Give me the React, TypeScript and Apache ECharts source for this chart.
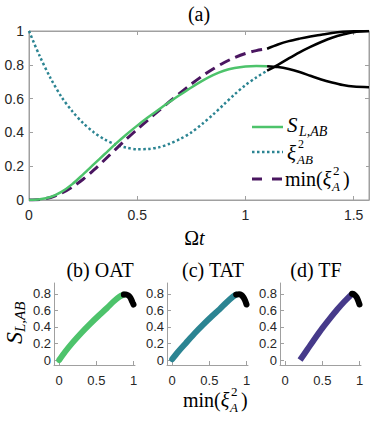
import React, { useEffect, useRef } from "react";
import * as echarts from "echarts";

// ---- panel (a) data ----
const tMain = [0, 0.05, 0.1, 0.15, 0.2, 0.25, 0.3, 0.35, 0.4, 0.45, 0.5, 0.55, 0.6, 0.65, 0.7, 0.75, 0.8, 0.85, 0.9, 0.95, 1.0, 1.05, 1.1];
const sLAB = [0, 0.004, 0.018, 0.048, 0.094, 0.152, 0.212, 0.272, 0.332, 0.388, 0.44, 0.489, 0.536, 0.581, 0.624, 0.666, 0.705, 0.739, 0.765, 0.781, 0.79, 0.793, 0.792];
const xiAB = [1.0, 0.85, 0.72, 0.61, 0.525, 0.455, 0.4, 0.358, 0.328, 0.31, 0.3, 0.302, 0.312, 0.333, 0.362, 0.4, 0.45, 0.505, 0.565, 0.625, 0.68, 0.725, 0.765];
const minXiA = [0, 0.003, 0.015, 0.04, 0.077, 0.123, 0.178, 0.238, 0.3, 0.36, 0.418, 0.474, 0.529, 0.583, 0.635, 0.686, 0.733, 0.775, 0.812, 0.843, 0.867, 0.884, 0.895];
const tTail = [1.1, 1.15, 1.2, 1.25, 1.3, 1.35, 1.4, 1.45, 1.5, Math.PI / 2];
const tailMin = [0.895, 0.92, 0.94, 0.955, 0.968, 0.978, 0.988, 0.995, 0.999, 1.0];
const tailXiAB = [0.765, 0.8, 0.838, 0.874, 0.906, 0.935, 0.96, 0.979, 0.993, 1.0];
const tailS = [0.792, 0.787, 0.775, 0.757, 0.735, 0.713, 0.695, 0.68, 0.671, 0.667];
const xTicksMain = [0, 0.5, 1, 1.5];
const yTicksMain = [0, 0.2, 0.4, 0.6, 0.8, 1];

// ---- panels (b)-(d) data: x = min(xi_A^2), y = S_L,AB ----
const oatX = [0, 0.08, 0.18, 0.3, 0.42, 0.53, 0.64, 0.73, 0.81, 0.87];
const oatY = [0, 0.1, 0.21, 0.33, 0.44, 0.535, 0.625, 0.705, 0.765, 0.79];
const oatTailX = [0.87, 0.9, 0.93, 0.955, 0.975, 0.99, 1.0];
const oatTailY = [0.79, 0.792, 0.78, 0.757, 0.72, 0.69, 0.67];
const tatX = [0, 0.08, 0.18, 0.3, 0.42, 0.53, 0.64, 0.73, 0.81, 0.86];
const tatY = [0.01, 0.1, 0.2, 0.32, 0.43, 0.525, 0.615, 0.695, 0.76, 0.79];
const tatTailX = [0.86, 0.9, 0.93, 0.96, 0.98, 1.0];
const tatTailY = [0.79, 0.795, 0.785, 0.755, 0.72, 0.67];
const tfX = [0.2, 0.3, 0.4, 0.5, 0.6, 0.7, 0.8, 0.9];
const tfY = [0, 0.13, 0.26, 0.385, 0.5, 0.61, 0.71, 0.8];
const tfTailX = [0.9, 0.93, 0.96, 0.98, 1.0];
const tfTailY = [0.8, 0.79, 0.76, 0.72, 0.67];
const xTicksSmall = [0, 0.5, 1];
const yTicksSmall = [0, 0.2, 0.4, 0.6, 0.8];
const panelTitles = ["(b) OAT", "(c) TAT", "(d) TF"];

const GREEN = "#4dc36b";
const TEAL = "#2b8492";
const PURPLE = "#4a1660";
const INDIGO = "#463a8a";
const AXIS = "#a0a0a0";
const LABEL = "#262626";
const SERIF = '"Liberation Serif", serif';
const SANS = '"Liberation Sans", Arial, sans-serif';

const zip = (xs: number[], ys: number[]) => xs.map((x, i) => [x, ys[i]]);

function line(xi: number, yi: number, data: number[][], color: string, width: number, type: any = "solid", cap: any = "butt") {
  return {
    type: "line",
    xAxisIndex: xi,
    yAxisIndex: yi,
    data,
    symbol: "none",
    smooth: 0.3,
    silent: true,
    lineStyle: { color, width, type, cap },
    z: 3,
  };
}

function txt(x: number, y: number, text: string, size: number, italic = false, align = "left", va = "middle", family = SERIF) {
  return {
    type: "text",
    x,
    y,
    silent: true,
    style: {
      text,
      font: `${italic ? "italic " : ""}${size}px ${family}`,
      fill: "#000",
      align,
      verticalAlign: va,
    },
  };
}

function axisX(grid: number, min: number, max: number, ticks: number[], showLabel: boolean, pos = "bottom", size = 14, margin = 8) {
  return {
    type: "value",
    gridIndex: grid,
    min,
    max,
    position: pos,
    axisLine: { show: true, onZero: false, lineStyle: { color: AXIS, width: 1 } },
    axisTick: { show: true, inside: true, length: 4, customValues: ticks, lineStyle: { color: AXIS } },
    axisLabel: { show: showLabel, customValues: ticks, color: LABEL, fontSize: size, fontFamily: SANS, margin },
    splitLine: { show: false },
  };
}

function axisY(grid: number, min: number, max: number, ticks: number[], showLabel: boolean, pos = "left", size = 14, margin = 5) {
  return {
    type: "value",
    gridIndex: grid,
    min,
    max,
    position: pos,
    axisLine: { show: true, onZero: false, lineStyle: { color: AXIS, width: 1 } },
    axisTick: { show: true, inside: true, length: 4, customValues: ticks, lineStyle: { color: AXIS } },
    axisLabel: { show: showLabel, customValues: ticks, color: LABEL, fontSize: size, fontFamily: SANS, margin },
    splitLine: { show: false },
  };
}

// "min(ξ²_A)" built from a rich text "min(ξ" plus scripts and ")"
function minXiLabel(x: number, y: number, size: number, z = 11) {
  return [
    {
      type: "text",
      x,
      y,
      z,
      silent: true,
      style: {
        text: "{r|min(}{i|ξ}",
        verticalAlign: "middle",
        align: "left",
        rich: {
          r: { fontFamily: SERIF, fontSize: size, fill: "#000" },
          i: { fontFamily: SERIF, fontSize: size, fontStyle: "italic", fill: "#000" },
        },
      },
    },
    { ...txt(x + 48, y - 9, "2", 13), z },
    { ...txt(x + 47, y + 7, "A", 13, true), z },
    { ...txt(x + 58, y, ")", size), z },
  ];
}

export default function App() {
  const ref = useRef<HTMLDivElement>(null);
  useEffect(() => {
    if (!ref.current) return;
    const chart = echarts.init(ref.current, null, { renderer: "svg" });
    const smallLefts = [54, 167, 280];
    const titleX = [100, 213, 316];
    const option: any = {
      animation: false,
      backgroundColor: "#fff",
      grid: [
        { left: 29, top: 31, width: 340, height: 169, show: true, borderColor: AXIS, borderWidth: 1, backgroundColor: "transparent" },
        ...smallLefts.map((l) => ({ left: l, top: 283, width: 81, height: 82 })),
      ],
      xAxis: [
        axisX(0, 0, Math.PI / 2, xTicksMain, true, "bottom", 14, 8),
        axisX(0, 0, Math.PI / 2, xTicksMain, false, "top"),
        axisX(1, -0.07, 1.02, xTicksSmall, true, "bottom", 13, 9),
        axisX(2, -0.07, 1.02, xTicksSmall, true, "bottom", 13, 9),
        axisX(3, -0.07, 1.02, xTicksSmall, true, "bottom", 13, 9),
      ],
      yAxis: [
        axisY(0, 0, 1, yTicksMain, true, "left", 14, 5),
        axisY(0, 0, 1, yTicksMain, false, "right"),
        axisY(1, -0.06, 0.93, yTicksSmall, true, "left", 13, 3),
        axisY(2, -0.06, 0.93, yTicksSmall, true, "left", 13, 3),
        axisY(3, -0.06, 0.93, yTicksSmall, true, "left", 13, 3),
      ],
      series: [
        line(0, 0, zip(tMain, xiAB), TEAL, 2.5, [2.5, 2.5]),
        line(0, 0, zip(tMain, minXiA), PURPLE, 3, [11, 6]),
        line(0, 0, zip(tMain, sLAB), GREEN, 2.5),
        line(0, 0, zip(tTail, tailMin), "#000", 2.5),
        line(0, 0, zip(tTail, tailXiAB), "#000", 2.5),
        line(0, 0, zip(tTail, tailS), "#000", 2.5),
        line(2, 2, zip(oatX, oatY), GREEN, 6, "solid", "round"),
        line(2, 2, zip(oatTailX, oatTailY), "#000", 6, "solid", "round"),
        line(3, 3, zip(tatX, tatY), TEAL, 6, "solid", "round"),
        line(3, 3, zip(tatTailX, tatTailY), "#000", 6, "solid", "round"),
        line(4, 4, zip(tfX, tfY), INDIGO, 6, "solid", "butt"),
        line(4, 4, zip(tfTailX, tfTailY), "#000", 6, "solid", "round"),
      ],
      graphic: [
        txt(199, 14, "(a)", 20, false, "center"),
        txt(199, 238, "Ω", 20, false, "right"),
        txt(199, 238, "t", 20, true, "left"),
        // legend (inside panel a)
        { type: "rect", shape: { x: 248, y: 114, width: 118, height: 80 }, style: { fill: "#fff" }, z: 10, silent: true },
        { type: "line", shape: { x1: 252, y1: 127, x2: 283, y2: 127 }, style: { stroke: GREEN, lineWidth: 2.5 }, z: 11, silent: true },
        { type: "line", shape: { x1: 252, y1: 152, x2: 283, y2: 152 }, style: { stroke: TEAL, lineWidth: 2.5, lineDash: [2.5, 2.5] }, z: 11, silent: true },
        { type: "line", shape: { x1: 252, y1: 179, x2: 283, y2: 179 }, style: { stroke: PURPLE, lineWidth: 3, lineDash: [10, 10] }, z: 11, silent: true },
        { ...txt(287, 125, "S", 21, true), z: 11 },
        { ...txt(299, 131, "L,AB", 14, true), z: 11 },
        { ...txt(287, 153, "ξ", 21, true), z: 11 },
        { ...txt(298, 144, "2", 12), z: 11 },
        { ...txt(297, 159, "AB", 13, true), z: 11 },
        ...minXiLabel(285, 179, 20),
        // small panel titles
        ...panelTitles.map((t, i) => txt(titleX[i], 270, t, 20, false, "center")),
        // y label S_{L,AB} rotated
        {
          type: "group",
          x: 14,
          y: 344,
          rotation: Math.PI / 2,
          silent: true,
          children: [txt(0, 0, "S", 24, true), txt(12, 6, "L,AB", 15, true)],
        },
        // x label min(xi_A^2)
        ...minXiLabel(183, 400, 20, 1),
      ],
    };
    chart.setOption(option);
    return () => chart.dispose();
  }, []);
  return <div ref={ref} style={{ position: "absolute", left: 0, top: 0, width: 374, height: 424 }} />;
}
